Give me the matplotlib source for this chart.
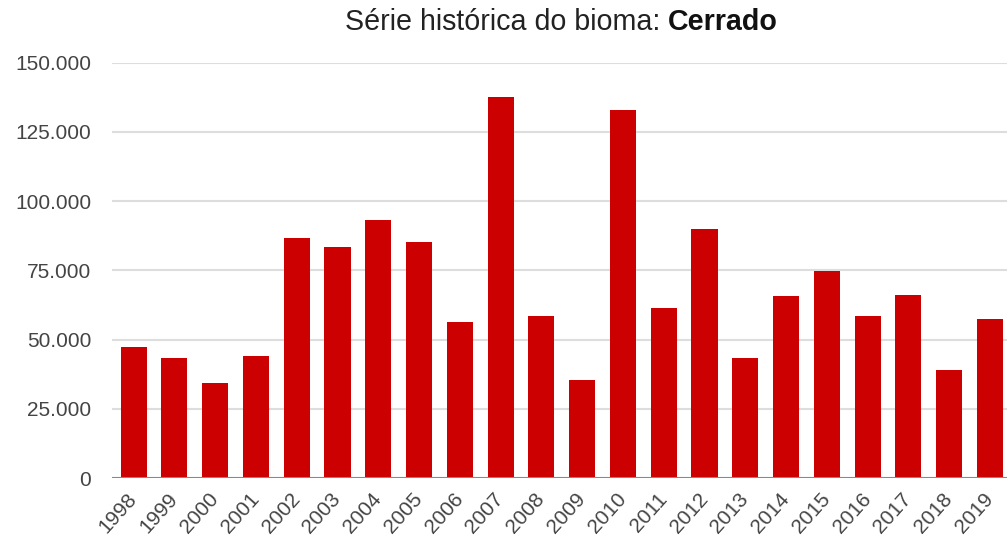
import matplotlib.pyplot as plt
from matplotlib.ticker import FuncFormatter

plt.rcParams['font.family'] = ['Liberation Sans', 'DejaVu Sans']

# focos de queimadas por ano - Cerrado
anos = ['1998', '1999', '2000', '2001', '2002', '2003', '2004', '2005', '2006', '2007', '2008',
        '2009', '2010', '2011', '2012', '2013', '2014', '2015', '2016', '2017', '2018', '2019']
focos = [47200, 43450, 34200, 44070, 86690, 83550, 93190, 85240, 56350, 137620, 58620,
         35290, 132800, 61290, 90050, 43340, 65630, 74880, 58510, 66100, 39010, 57540]
y_ticks = [0, 25000, 50000, 75000, 100000, 125000, 150000]
titulo = 'Série histórica do bioma: '
bioma = 'Cerrado'

fig = plt.figure(figsize=(10.07, 5.41), dpi=100)
ax = fig.add_axes([112 / 1007, 63 / 541, 895 / 1007, 415.3 / 541])

x = range(len(anos))
ax.bar(x, focos, width=0.64, color='#cc0000', zorder=2)

ax.set_ylim(0, 150000)
ax.set_xlim(-0.53, 21.42)
ax.set_yticks(y_ticks)
# separador de milhar com ponto
ax.yaxis.set_major_formatter(FuncFormatter(lambda v, p: f'{int(v):,}'.replace(',', '.')))
ax.grid(axis='y', color='#dddddd', linewidth=1.5, zorder=0)
ax.axhline(0, color='#888888', linewidth=2.2, zorder=3)

for s in ax.spines.values():
    s.set_visible(False)
ax.tick_params(axis='both', length=0, colors='#444444', labelsize=15)
ax.tick_params(axis='y', pad=15)

ax.set_xticks(list(x))
ax.set_xticklabels(anos, rotation=48, ha='right', rotation_mode='anchor', va='center')
ax.tick_params(axis='x', pad=13)

# titulo: parte normal + nome do bioma em negrito, centrado sobre o eixo
t1 = fig.text(0, 0, titulo, fontsize=20.6, color='#222222')
t2 = fig.text(0, 0, bioma, fontsize=20.6, color='#111111', fontweight='bold')
r = fig.canvas.get_renderer()
w1 = t1.get_window_extent(r).width
w2 = t2.get_window_extent(r).width
cx = 561.5
y0 = 541 - 30
t1.set_position(((cx - (w1 + w2) / 2) / 1007, y0 / 541))
t2.set_position(((cx - (w1 + w2) / 2 + w1) / 1007, y0 / 541))

fig.savefig('out.png', dpi=100)
